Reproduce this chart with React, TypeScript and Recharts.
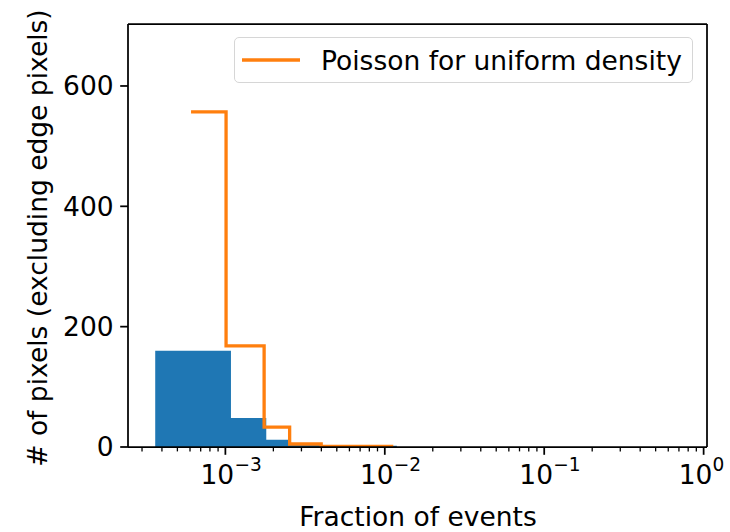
import React from 'react';
import { ComposedChart, XAxis, YAxis, Area, Line, ReferenceLine } from 'recharts';

// Histogram bin edges (fraction of events) and counts
const binEdges = [3.63e-4, 1.084e-3, 1.805e-3, 2.526e-3, 3.247e-3, 3.968e-3, 4.689e-3, 5.41e-3, 6.131e-3, 6.852e-3, 7.573e-3, 8.294e-3, 9.015e-3, 9.736e-3, 1.0457e-2, 1.1178e-2, 1.1899e-2];
const binCounts = [160, 48, 12, 6, 6, 1, 1, 0, 1, 0, 1, 0, 0, 1, 0, 2];

// Poisson expectation step line
const poissonX = [6.09e-4, 1.01e-3, 1.75e-3, 2.53e-3, 3.99e-3, 1.13e-2];
const poissonY = [557, 168, 33, 5, 1, 1];

const xMajorTicks = [1e-3, 1e-2, 1e-1, 1];
const xMajorExponents = ['\u22123', '\u22122', '\u22121', '0'];
const xMinorTicks = [3e-4, 4e-4, 5e-4, 6e-4, 7e-4, 8e-4, 9e-4, 2e-3, 3e-3, 4e-3, 5e-3, 6e-3, 7e-3, 8e-3, 9e-3, 2e-2, 3e-2, 4e-2, 5e-2, 6e-2, 7e-2, 8e-2, 9e-2, 0.2, 0.3, 0.4, 0.5, 0.6, 0.7, 0.8, 0.9];
const yTicks = [0, 200, 400, 600];

const xDomain = [2.45e-4, 1.05];
const yDomain = [0, 703];

const legendLabel = 'Poisson for uniform density';

const FONT = 'DejaVu Sans';
const FS = 26.5;
const LW = 1.75;

const histData = binEdges.map((x, i) => ({ x, count: i < binCounts.length ? binCounts[i] : 0 }));
const poissonData = poissonX.map((x, i) => ({ x, p: poissonY[i] }));
const xTicks = [...xMinorTicks, ...xMajorTicks].sort((a, b) => a - b);

const XTick = (props: any) => {
  const { x, y, payload } = props;
  const idx = xMajorTicks.findIndex((v) => Math.abs(v - payload.value) / v < 1e-6);
  const major = idx >= 0;
  return (
    <g>
      <line x1={x} x2={x} y1={y} y2={y + (major ? 7.8 : 4.4)} stroke="#000" strokeWidth={major ? LW : 1.3} />
      {major && (
        <text fontFamily={FONT} fill="#000">
          <tspan x={x - 8} y={y + 37} fontSize={FS} textAnchor="middle">10</tspan>
          <tspan x={x + 9} y={y + 24} fontSize={FS * 0.7} textAnchor="start">{xMajorExponents[idx]}</tspan>
        </text>
      )}
    </g>
  );
};

export default function App() {
  return (
    <div style={{ position: 'absolute', left: 0, top: 0, width: 730, height: 532, background: '#fff' }}>
      <ComposedChart width={730} height={532} margin={{ top: 24, right: 23, bottom: 0, left: 0 }}>
        <XAxis
          dataKey="x"
          type="number"
          scale="log"
          domain={xDomain}
          allowDataOverflow
          ticks={xTicks}
          interval={0}
          height={85}
          tickLine={false}
          tickSize={0}
          tickMargin={0}
          tick={<XTick />}
          axisLine={{ stroke: '#000', strokeWidth: LW }}
          label={{
            content: () => (
              <text x={418} y={526} textAnchor="middle" fontFamily={FONT} fontSize={FS} fill="#000">
                Fraction of events
              </text>
            ),
          }}
        />
        <YAxis
          type="number"
          domain={yDomain}
          allowDataOverflow
          ticks={yTicks}
          interval={0}
          width={128}
          tickSize={7.8}
          tickMargin={6.5}
          tickLine={{ stroke: '#000', strokeWidth: LW }}
          axisLine={{ stroke: '#000', strokeWidth: LW }}
          tick={{ fill: '#000', fontSize: FS, fontFamily: FONT }}
          label={{
            content: () => (
              <text
                transform="translate(47,238) rotate(-90)"
                x={0}
                y={0}
                textAnchor="middle"
                fontFamily={FONT}
                fontSize={FS}
                fill="#000"
              >
                # of pixels (excluding edge pixels)
              </text>
            ),
          }}
        />
        <Area
          data={histData}
          dataKey="count"
          type="stepAfter"
          fill="#1f77b4"
          fillOpacity={1}
          stroke="none"
          isAnimationActive={false}
          legendType="none"
        />
        <Line
          data={poissonData}
          dataKey="p"
          type="stepAfter"
          stroke="#ff7f0e"
          strokeWidth={3.3}
          dot={false}
          activeDot={false}
          isAnimationActive={false}
        />
        <ReferenceLine y={yDomain[1]} stroke="#000" strokeWidth={LW} />
        <ReferenceLine x={xDomain[1]} stroke="#000" strokeWidth={LW} />
      </ComposedChart>
      <div
        style={{
          position: 'absolute',
          left: 234,
          top: 37,
          boxSizing: 'border-box',
          width: 459,
          height: 46,
          border: '1.5px solid #d6d6d6',
          borderRadius: 5,
          background: 'rgba(255,255,255,0.8)',
          display: 'flex',
          alignItems: 'center',
          fontFamily: FONT,
          fontSize: FS,
          color: '#000',
          whiteSpace: 'nowrap',
        }}
      >
        <svg width={86} height={20} style={{ flex: 'none' }}>
          <line x1={7} x2={65} y1={10} y2={10} stroke="#ff7f0e" strokeWidth={3.3} />
        </svg>
        <span>{legendLabel}</span>
      </div>
    </div>
  );
}
